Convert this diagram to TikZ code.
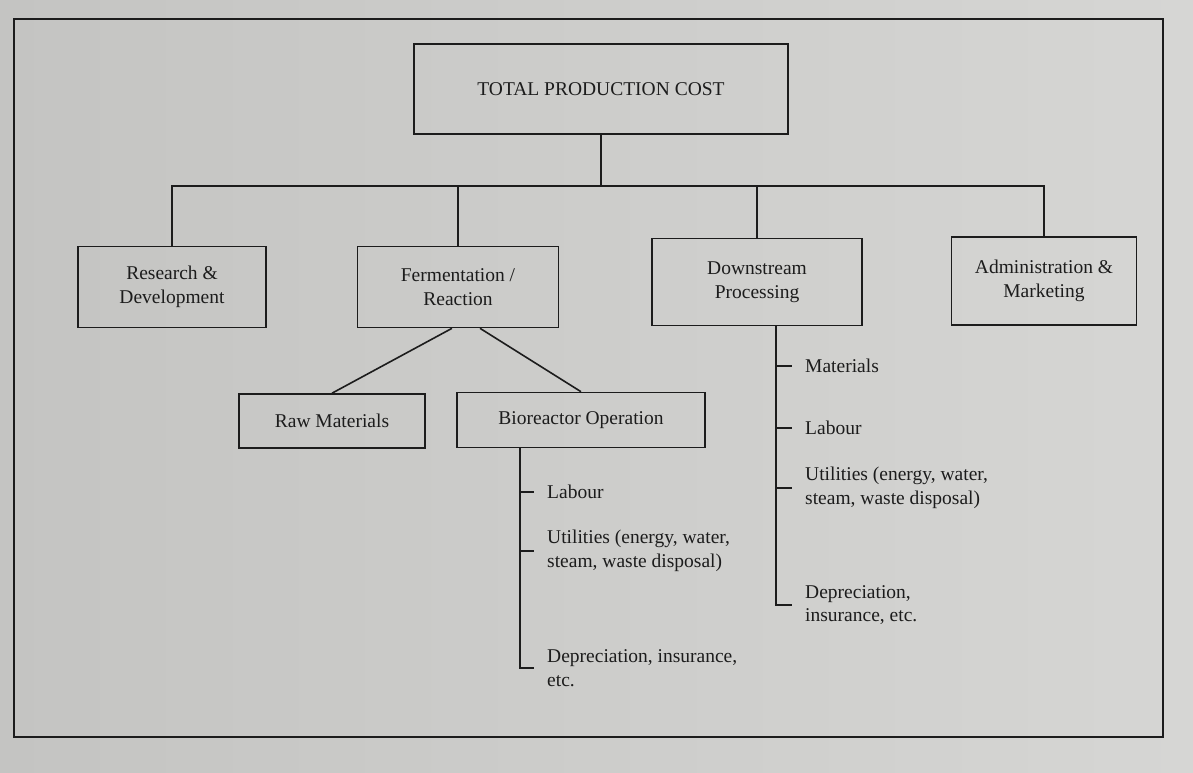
\documentclass[tikz,border=0pt]{standalone}
\usepackage{fontspec}
\setmainfont{Liberation Serif}
\usetikzlibrary{calc}
\definecolor{paperL}{RGB}{196,196,194}
\definecolor{paperR}{RGB}{214,214,212}
\definecolor{ink}{RGB}{28,28,28}
\begin{document}
\begin{tikzpicture}[x=1pt,y=-1pt,
  costbox/.style={draw=ink,line width=1.6pt,align=center,inner sep=0pt,
    text=ink,font=\fontsize{19.5}{23.5}\selectfont},
  item/.style={anchor=west,align=left,inner sep=0pt,text=ink,
    font=\fontsize{19.5}{23.5}\selectfont},
  wire/.style={draw=ink,line width=1.6pt},
  tick/.style={wire,shorten >=13pt}]
% page and figure frame
\useasboundingbox (0,0) rectangle (1193,772);
\shade[left color=paperL,right color=paperR] (0,0) rectangle (1193,772);
\draw[ink,line width=2pt] (14,19) rectangle (1163,737);

% cost boxes
\node[costbox,minimum width=374pt,minimum height=90pt] (total) at (601,89) {TOTAL PRODUCTION COST};
\node[costbox,minimum width=188pt,minimum height=81pt] (rd)   at (172,287) {Research \&\\Development};
\node[costbox,minimum width=201pt,minimum height=81pt] (ferm) at (458,287) {Fermentation /\\Reaction};
\node[costbox,minimum width=210pt,minimum height=87pt] (down) at (757,282) {Downstream\\Processing};
\node[costbox,minimum width=185pt,minimum height=88pt] (adm)  at (1044,281) {Administration \&\\Marketing};
\node[costbox,minimum width=186pt,minimum height=54pt] (raw)  at (332,421) {Raw Materials};
\node[costbox,minimum width=248pt,minimum height=55pt] (bio)  at (581,420) {Bioreactor Operation};

% top-level bus
\coordinate (bus) at ($(total.south)+(0,51)$);
\draw[wire] (total.south) -- (total.south |- bus);
\draw[wire] (rd.north) -- (rd.north |- bus) -- (adm.north |- bus) -- (adm.north);
\draw[wire] (ferm.north) -- (ferm.north |- bus);
\draw[wire] (down.north) -- (down.north |- bus);

% fermentation split
\draw[wire] ($(ferm.south)+(-6,0)$) -- (raw.north);
\draw[wire] ($(ferm.south)+(22,0)$) -- (bio.north);

% bioreactor operation items
\coordinate (bioTop) at ($(bio.south)+(-61,0)$);
\node[item] (bLab) at (547,492) {Labour};
\node[item] (bUti) at (547,551) {Utilities (energy, water,\\steam, waste disposal)};
\node[item] (bDep) at (547,668) {Depreciation, insurance,\\etc.};
\draw[tick] (bioTop) |- (bDep.west);
\draw[tick] (bioTop |- bLab.west) -- (bLab.west);
\draw[tick] (bioTop |- bUti.west) -- (bUti.west);

% downstream processing items
\coordinate (dsTop) at ($(down.south)+(19,0)$);
\node[item] (dMat) at (805,366) {Materials};
\node[item] (dLab) at (805,428) {Labour};
\node[item] (dUti) at (805,488) {Utilities (energy, water,\\steam, waste disposal)};
\node[item] (dDep) at (805,605) {Depreciation,\\insurance, etc.};
\draw[tick] (dsTop) |- (dDep.west);
\draw[tick] (dsTop |- dMat.west) -- (dMat.west);
\draw[tick] (dsTop |- dLab.west) -- (dLab.west);
\draw[tick] (dsTop |- dUti.west) -- (dUti.west);
\end{tikzpicture}
\end{document}
